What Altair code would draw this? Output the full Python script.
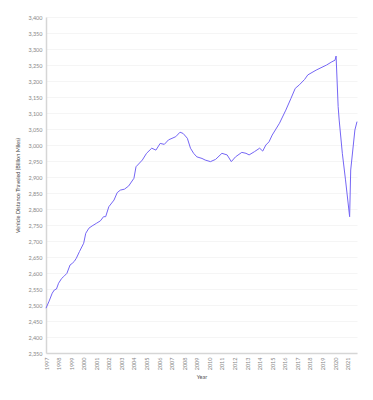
import altair as alt
import pandas as pd

dates = [
    "1997-01", "1997-04", "1997-07", "1997-09", "1997-11",
    "1998-01", "1998-04", "1998-06", "1998-09", "1998-12",
    "1999-02", "1999-04", "1999-06", "1999-09",
    "2000-01", "2000-03", "2000-06", "2000-09",
    "2001-01", "2001-05", "2001-08", "2001-10",
    "2002-01", "2002-06", "2002-09", "2002-12",
    "2003-04", "2003-08",
    "2004-01", "2004-03", "2004-09",
    "2005-01", "2005-06", "2005-10",
    "2006-02", "2006-06", "2006-10",
    "2007-05", "2007-09", "2007-12",
    "2008-04", "2008-07", "2008-10",
    "2009-01", "2009-06", "2009-09",
    "2010-02", "2010-07",
    "2011-01", "2011-06", "2011-10",
    "2012-02", "2012-08", "2012-12",
    "2013-03", "2013-08",
    "2014-01", "2014-04", "2014-07", "2014-10",
    "2015-01", "2015-08",
    "2016-02", "2016-07", "2016-11",
    "2017-03", "2017-08", "2017-11",
    "2018-07",
    "2019-05", "2019-10",
    "2020-01", "2020-02", "2020-04", "2020-05", "2020-08", "2020-11",
    "2021-03", "2021-04", "2021-08", "2021-10",
]
miles = [
    2490, 2512, 2537, 2547, 2550,
    2568, 2583, 2589, 2599, 2625,
    2630, 2636, 2646, 2667,
    2693, 2724, 2740, 2747,
    2755, 2763, 2776, 2776,
    2807, 2828, 2851, 2859,
    2862, 2872,
    2896, 2932, 2953,
    2974, 2990, 2984,
    3005, 3002, 3016,
    3026, 3040, 3036,
    3021, 2990, 2974,
    2963, 2958, 2953,
    2948, 2955,
    2974, 2969, 2948,
    2963, 2977, 2974,
    2969, 2979,
    2990, 2981, 3000, 3010,
    3031, 3068,
    3109, 3146, 3177,
    3188, 3205, 3219,
    3234,
    3250, 3260,
    3265, 3278, 3120, 3078, 2974, 2891,
    2776, 2922, 3047, 3073,
]

y_ticks = list(range(2350, 3401, 50))

df = pd.DataFrame({"date": pd.to_datetime(dates), "miles": miles})

font = "Lato"

chart = alt.Chart(df).mark_line(color="#7566F5", strokeWidth=1).encode(
    x=alt.X(
        "date:T",
        title="Year",
        scale=alt.Scale(domain=["1997-01-01", "2021-10-01"]),
        axis=alt.Axis(
            format="%Y",
            tickCount={"interval": "year", "step": 1},
            labelAngle=-90,
            labelFontSize=5.5,
            labelColor="#888888",
            labelFont=font,
            labelPadding=4,
            ticks=False,
            grid=False,
            domainColor="#d6d6d6",
            domainWidth=1.5,
            titleFontSize=5.5,
            titleFont=font,
            titleFontWeight="normal",
            titleColor="#555555",
            titlePadding=5,
        ),
    ),
    y=alt.Y(
        "miles:Q",
        title="Vehicle Distance Traveled (Billion Miles)",
        scale=alt.Scale(domain=[2350, 3400], nice=False, zero=False),
        axis=alt.Axis(
            values=y_ticks,
            format=",.0f",
            labelFontSize=5.5,
            labelColor="#888888",
            labelFont=font,
            labelPadding=4,
            ticks=False,
            grid=True,
            gridColor="#f2f2f2",
            gridWidth=0.8,
            domainColor="#d6d6d6",
            domainWidth=1.5,
            titleFontSize=5.5,
            titleFont=font,
            titleFontWeight="normal",
            titleColor="#444444",
            titleX=-26,
        ),
    ),
).properties(
    width=311,
    height=336,
    background="white",
    autosize=alt.AutoSizeParams(type="none"),
    padding={"left": 46, "top": 17, "right": 16, "bottom": 47},
).configure_view(stroke=None)

chart.save("out.html", embed_options={"renderer": "svg", "actions": False})
